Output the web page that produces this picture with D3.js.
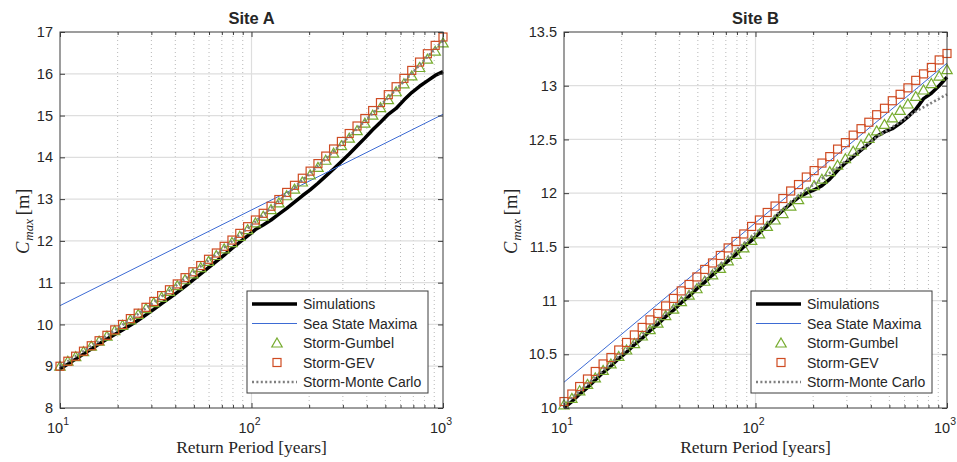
<!DOCTYPE html>
<html>
<head>
<meta charset="utf-8">
<script src="https://cdn.jsdelivr.net/npm/d3@7"></script>
<style>
body { margin: 0; background: #fff; }
svg text { font-family: "Liberation Sans", Arial, sans-serif; fill: #262626; }
.serif { font-family: "Liberation Serif", "Times New Roman", serif !important; }
</style>
</head>
<body>
<svg id="fig" width="957" height="462"></svg>
<script>
// return periods [years] of the storm model points
var periods = [10, 10.99, 12.07, 13.26, 14.56, 16.00, 17.58, 19.31, 21.21, 23.30,
  25.60, 28.12, 30.89, 33.93, 37.28, 40.95, 44.98, 49.42, 54.29, 59.64,
  65.51, 71.97, 79.06, 86.85, 95.41, 104.81, 115.14, 126.49, 138.95, 152.64,
  167.68, 184.21, 202.36, 222.30, 244.21, 268.27, 294.71, 323.75, 355.65, 390.70,
  429.20, 471.49, 517.95, 568.99, 625.06, 686.65, 754.31, 828.64, 910.30, 1000];
var mcPeriods = [10, 16.00, 25.60, 40.95, 65.51, 104.81, 167.68, 268.27, 429.20, 686.65, 1000];
var seaPeriods = [10, 1000];

// Site A
var simA = [8.93, 9.05, 9.17, 9.29, 9.41, 9.53, 9.65, 9.76, 9.87, 9.98,
  10.10, 10.23, 10.36, 10.50, 10.63, 10.77, 10.91, 11.06, 11.21, 11.36,
  11.51, 11.66, 11.82, 11.97, 12.12, 12.27, 12.38, 12.50, 12.64, 12.78,
  12.93, 13.08, 13.22, 13.38, 13.55, 13.72, 13.90, 14.08, 14.27, 14.46,
  14.66, 14.84, 15.03, 15.17, 15.37, 15.55, 15.70, 15.83, 15.96, 16.05];
var seaA = [10.45, 15.03];
var gumbelA = [9.00, 9.12, 9.23, 9.35, 9.48, 9.60, 9.72, 9.85, 9.98, 10.11,
  10.24, 10.38, 10.52, 10.65, 10.79, 10.93, 11.07, 11.21, 11.36, 11.51,
  11.65, 11.81, 11.96, 12.11, 12.27, 12.43, 12.59, 12.75, 12.91, 13.08,
  13.24, 13.41, 13.58, 13.76, 13.93, 14.10, 14.28, 14.46, 14.64, 14.82,
  15.01, 15.19, 15.38, 15.57, 15.76, 15.95, 16.15, 16.35, 16.54, 16.74];
var gevA = [9.00, 9.12, 9.24, 9.36, 9.49, 9.61, 9.74, 9.87, 10.00, 10.14,
  10.27, 10.41, 10.55, 10.69, 10.83, 10.97, 11.12, 11.26, 11.41, 11.56,
  11.71, 11.87, 12.02, 12.18, 12.34, 12.50, 12.66, 12.83, 12.99, 13.16,
  13.33, 13.50, 13.67, 13.85, 14.03, 14.20, 14.38, 14.57, 14.75, 14.93,
  15.12, 15.31, 15.50, 15.69, 15.89, 16.08, 16.28, 16.48, 16.68, 16.88];
var mcA = [9.00, 9.60, 10.25, 10.95, 11.68, 12.46, 13.28, 14.14, 15.05, 16.01, 16.80];

// Site B
var simB = [10.00, 10.06, 10.13, 10.19, 10.26, 10.33, 10.39, 10.46, 10.52, 10.59,
  10.65, 10.72, 10.78, 10.85, 10.91, 10.98, 11.04, 11.11, 11.17, 11.24,
  11.30, 11.37, 11.43, 11.50, 11.56, 11.63, 11.70, 11.77, 11.84, 11.90,
  11.96, 12.00, 12.03, 12.07, 12.13, 12.21, 12.28, 12.34, 12.40, 12.46,
  12.53, 12.57, 12.60, 12.65, 12.71, 12.78, 12.88, 12.93, 13.00, 13.08];
var seaB = [10.24, 13.21];
var gumbelB = [10.03, 10.09, 10.16, 10.22, 10.28, 10.35, 10.41, 10.48, 10.54, 10.60,
  10.67, 10.73, 10.79, 10.86, 10.92, 10.99, 11.05, 11.11, 11.18, 11.24,
  11.30, 11.37, 11.43, 11.49, 11.56, 11.62, 11.69, 11.75, 11.81, 11.88,
  11.94, 12.00, 12.07, 12.13, 12.20, 12.26, 12.32, 12.39, 12.45, 12.51,
  12.58, 12.64, 12.70, 12.77, 12.83, 12.90, 12.96, 13.02, 13.09, 13.15];
var gevB = [10.06, 10.13, 10.20, 10.27, 10.34, 10.41, 10.47, 10.54, 10.61, 10.68,
  10.75, 10.82, 10.88, 10.95, 11.02, 11.09, 11.15, 11.22, 11.29, 11.35,
  11.42, 11.49, 11.55, 11.62, 11.69, 11.75, 11.82, 11.88, 11.95, 12.02,
  12.08, 12.15, 12.21, 12.28, 12.34, 12.41, 12.47, 12.54, 12.60, 12.66,
  12.73, 12.79, 12.86, 12.92, 12.98, 13.05, 13.11, 13.17, 13.24, 13.30];
var mcB = [10.03, 10.35, 10.68, 11.01, 11.34, 11.66, 11.98, 12.24, 12.52, 12.76, 12.92];

var xTicks = [10, 100, 1000];
var xTickExp = ["1", "2", "3"];
var yTicksA = [8, 9, 10, 11, 12, 13, 14, 15, 16, 17];
var yTicksB = [10, 10.5, 11, 11.5, 12, 12.5, 13, 13.5];
var legendLabels = ["Simulations", "Sea State Maxima", "Storm-Gumbel", "Storm-GEV", "Storm-Monte Carlo"];

var colSim = "#000000", colSea = "#3d6bd4", colGum = "#77ac30", colGev = "#cf4b22", colMc = "#7f7f7f";
var triPath = "M0,-5L5.2,4L-5.2,4Z";

var svg = d3.select("#fig");

function drawPanel(left, title, yDomain, yTicks, labelOffset, sim, sea, gumbel, gev, mc) {
  var w = 383, h = 376, top = 32;
  var g = svg.append("g").attr("transform", "translate(" + left + "," + top + ")");
  var x = d3.scaleLog().domain([10, 1000]).range([0, w]);
  var y = d3.scaleLinear().domain(yDomain).range([h, 0]);
  var minorTicks = x.ticks().filter(function(d) { return xTicks.indexOf(d) < 0; });

  // grid
  g.selectAll(".mgrid").data(minorTicks).enter().append("line")
    .attr("x1", function(d) { return x(d); }).attr("x2", function(d) { return x(d); })
    .attr("y1", 0).attr("y2", h)
    .attr("stroke", "#b8b8b8").attr("stroke-width", 1).attr("stroke-dasharray", "1,3");
  g.selectAll(".xgrid").data(xTicks.slice(1, -1)).enter().append("line")
    .attr("x1", function(d) { return x(d); }).attr("x2", function(d) { return x(d); })
    .attr("y1", 0).attr("y2", h).attr("stroke", "#dedede").attr("stroke-width", 1.2);
  g.selectAll(".ygrid").data(yTicks.slice(1, -1)).enter().append("line")
    .attr("x1", 0).attr("x2", w)
    .attr("y1", function(d) { return y(d); }).attr("y2", function(d) { return y(d); })
    .attr("stroke", "#dedede").attr("stroke-width", 1.2);

  // series
  var line = d3.line().x(function(d) { return x(d[0]); }).y(function(d) { return y(d[1]); });
  g.append("path").datum(d3.zip(periods, sim)).attr("d", line)
    .attr("fill", "none").attr("stroke", colSim).attr("stroke-width", 3.5).attr("stroke-linejoin", "round");
  g.append("path").datum(d3.zip(seaPeriods, sea)).attr("d", line)
    .attr("fill", "none").attr("stroke", colSea).attr("stroke-width", 1);
  g.selectAll(".tri").data(d3.zip(periods, gumbel)).enter().append("path")
    .attr("d", triPath)
    .attr("transform", function(d) { return "translate(" + x(d[0]) + "," + y(d[1]) + ")"; })
    .attr("fill", "none").attr("stroke", colGum).attr("stroke-width", 1.2);
  g.selectAll(".sq").data(d3.zip(periods, gev)).enter().append("rect")
    .attr("x", function(d) { return x(d[0]) - 4; }).attr("y", function(d) { return y(d[1]) - 4; })
    .attr("width", 8).attr("height", 8)
    .attr("fill", "none").attr("stroke", colGev).attr("stroke-width", 1.2);
  g.append("path").datum(d3.zip(mcPeriods, mc)).attr("d", line)
    .attr("fill", "none").attr("stroke", colMc).attr("stroke-width", 2.6).attr("stroke-dasharray", "2,2.4");

  // box and ticks
  g.append("rect").attr("width", w).attr("height", h)
    .attr("fill", "none").attr("stroke", "#3c3c3c").attr("stroke-width", 1);
  g.append("g").attr("transform", "translate(0," + h + ")")
    .call(d3.axisBottom(x).tickValues(xTicks).tickSize(-5).tickFormat(""))
    .call(function(a) { a.select(".domain").remove(); a.selectAll("line").attr("stroke", "#3c3c3c"); });
  g.append("g").attr("transform", "translate(0," + h + ")")
    .call(d3.axisBottom(x).tickValues(minorTicks).tickSize(-3).tickFormat(""))
    .call(function(a) { a.select(".domain").remove(); a.selectAll("line").attr("stroke", "#3c3c3c"); });
  g.append("g")
    .call(d3.axisTop(x).tickValues(xTicks).tickSize(-5).tickFormat(""))
    .call(function(a) { a.select(".domain").remove(); a.selectAll("line").attr("stroke", "#3c3c3c"); });
  g.append("g")
    .call(d3.axisTop(x).tickValues(minorTicks).tickSize(-3).tickFormat(""))
    .call(function(a) { a.select(".domain").remove(); a.selectAll("line").attr("stroke", "#3c3c3c"); });
  g.append("g")
    .call(d3.axisLeft(y).tickValues(yTicks).tickSize(-5).tickPadding(7).tickFormat(d3.format("")))
    .call(function(a) {
      a.select(".domain").remove();
      a.selectAll("line").attr("stroke", "#3c3c3c");
      a.selectAll("text").attr("font-size", 14.5).attr("fill", "#262626").attr("font-family", null);
    });
  g.append("g").attr("transform", "translate(" + w + ",0)")
    .call(d3.axisRight(y).tickValues(yTicks).tickSize(-5).tickFormat(""))
    .call(function(a) { a.select(".domain").remove(); a.selectAll("line").attr("stroke", "#3c3c3c"); });

  // x tick labels 10^n
  var xl = g.selectAll(".xl").data(xTicks).enter().append("text")
    .attr("x", function(d) { return x(d) - 2; }).attr("y", h + 25)
    .attr("text-anchor", "middle").attr("font-size", 14.5);
  xl.append("tspan").text("10");
  xl.append("tspan").attr("dy", -8).attr("font-size", 10.5).text(function(d, i) { return xTickExp[i]; });

  // titles
  g.append("text").attr("x", w / 2).attr("y", -8).attr("text-anchor", "middle")
    .attr("font-size", 16.5).attr("font-weight", "bold").attr("fill", "#000").text(title);
  g.append("text").attr("class", "serif").attr("x", w / 2).attr("y", h + 45)
    .attr("text-anchor", "middle").attr("font-size", 17.5).attr("fill", "#000")
    .text("Return Period [years]");
  // y label C_max [m]
  var yl = g.append("text").attr("class", "serif")
    .attr("transform", "translate(" + labelOffset + "," + (h / 2 + 34) + ") rotate(-90)")
    .attr("font-size", 18.5).attr("fill", "#000");
  yl.append("tspan").attr("font-style", "italic").text("C");
  yl.append("tspan").attr("font-style", "italic").attr("font-size", 13).attr("dx", 1).attr("dy", 4).text("max");
  yl.append("tspan").attr("dy", -4).text("\u2009[m]");

  // legend
  var lg = g.append("g").attr("transform", "translate(" + (w - 196) + "," + (h - 117) + ")");
  lg.append("rect").attr("width", 181).attr("height", 102)
    .attr("fill", "#fff").attr("stroke", "#3c3c3c").attr("stroke-width", 1);
  var row = function(i) { return 13 + i * 19.5; };
  lg.append("line").attr("x1", 5).attr("x2", 50).attr("y1", row(0)).attr("y2", row(0))
    .attr("stroke", colSim).attr("stroke-width", 3.5);
  lg.append("line").attr("x1", 5).attr("x2", 50).attr("y1", row(1)).attr("y2", row(1))
    .attr("stroke", colSea).attr("stroke-width", 1);
  lg.append("path").attr("d", triPath).attr("transform", "translate(30," + row(2) + ")")
    .attr("fill", "none").attr("stroke", colGum).attr("stroke-width", 1.2);
  lg.append("rect").attr("x", 26).attr("y", row(3) - 4).attr("width", 8).attr("height", 8)
    .attr("fill", "none").attr("stroke", colGev).attr("stroke-width", 1.2);
  lg.append("line").attr("x1", 5).attr("x2", 50).attr("y1", row(4)).attr("y2", row(4))
    .attr("stroke", colMc).attr("stroke-width", 2.6).attr("stroke-dasharray", "2,2.4");
  lg.selectAll(".lt").data(legendLabels).enter().append("text")
    .attr("x", 56).attr("y", function(d, i) { return row(i) + 5; })
    .attr("font-size", 14).attr("fill", "#000").text(function(d) { return d; });
}

drawPanel(60, "Site A", [8, 17], yTicksA, -31, simA, seaA, gumbelA, gevA, mcA);
drawPanel(564, "Site B", [10, 13.5], yTicksB, -47, simB, seaB, gumbelB, gevB, mcB);
</script>
</body>
</html>
